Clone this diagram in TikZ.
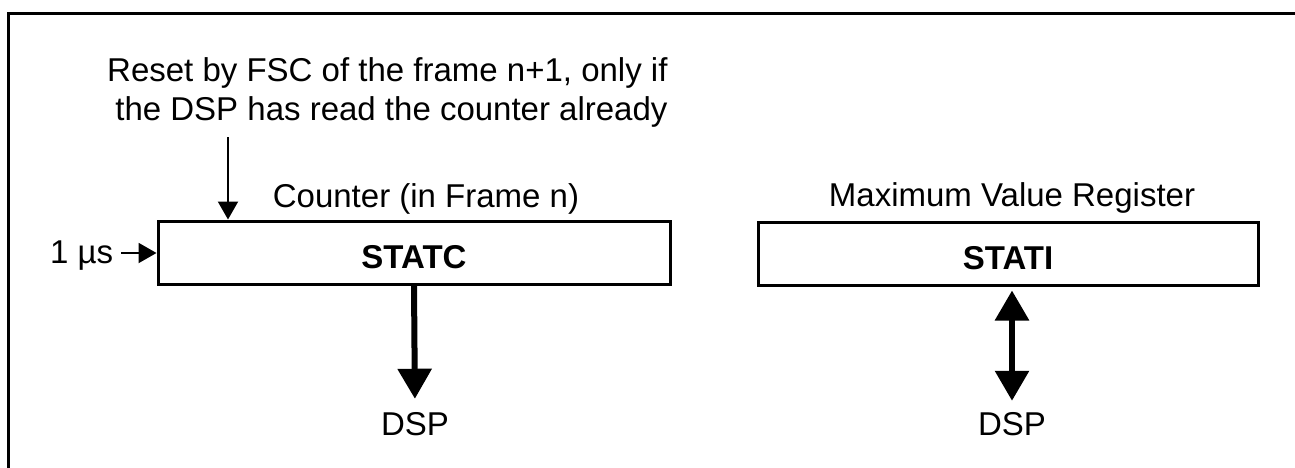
\documentclass[tikz,border=0pt]{standalone}
\usepackage{fontspec}
\setmainfont{Liberation Sans}
\usetikzlibrary{arrows.meta}
\begin{document}
\begin{tikzpicture}[x=1pt,y=-1pt,
  every node/.style={font=\fontsize{33}{39}\selectfont, inner sep=0pt},
  regbox/.style={draw, line width=3pt, minimum height=63pt, text height=31pt, text depth=0pt, font=\fontsize{33}{39}\selectfont\bfseries},
  thinarrow/.style={line width=2pt, -{Triangle[width=20pt,length=18pt]}},
  fatarrow/.style={line width=6pt, -{Triangle[width=33pt,length=30pt]}},
  fatdouble/.style={line width=6pt, {Triangle[width=33pt,length=30pt]}-{Triangle[width=33pt,length=30pt]}},
  frameline/.style={line width=3pt}]
\useasboundingbox (0,0) rectangle (1295,467);
\fill[white] (0,0) rectangle (1295,467);
% frame
\draw[frameline] (8,470) -- (8,13) -- (1298,13);
% boxes
\node[regbox, minimum width=512pt] (statc) at (414,252.5) {STATC};
\node[regbox, minimum width=500pt] (stati) at (1008,253.5) {STATI};
% labels
\node[anchor=base] (counter) at (426,207) {Counter (in Frame n)};
\node[anchor=base] (maxreg) at (1012,206) {Maximum Value Register};
\node[anchor=north west, align=right] (reset) at (107,57) {Reset by FSC of the frame n+1, only if\\the DSP has read the counter already};
\node[anchor=base west] (us) at (50,263) {1 µs};
\node[anchor=base] (dspa) at (415,435) {DSP};
\node[anchor=base] (dspb) at (1012,435) {DSP};
% connectors
\coordinate (rs) at (228,137);
\draw[thinarrow] (rs) -- (rs |- statc.north);
\coordinate (ua) at (121,253);
\draw[thinarrow] (ua) -- (ua -| statc.west);
\draw[fatarrow, shorten >=13pt] (statc.south) -- (dspa.north);
\draw[fatdouble, shorten <=4pt, shorten >=11pt] (dspb.north |- stati.south) -- (dspb.north);
\end{tikzpicture}
\end{document}
